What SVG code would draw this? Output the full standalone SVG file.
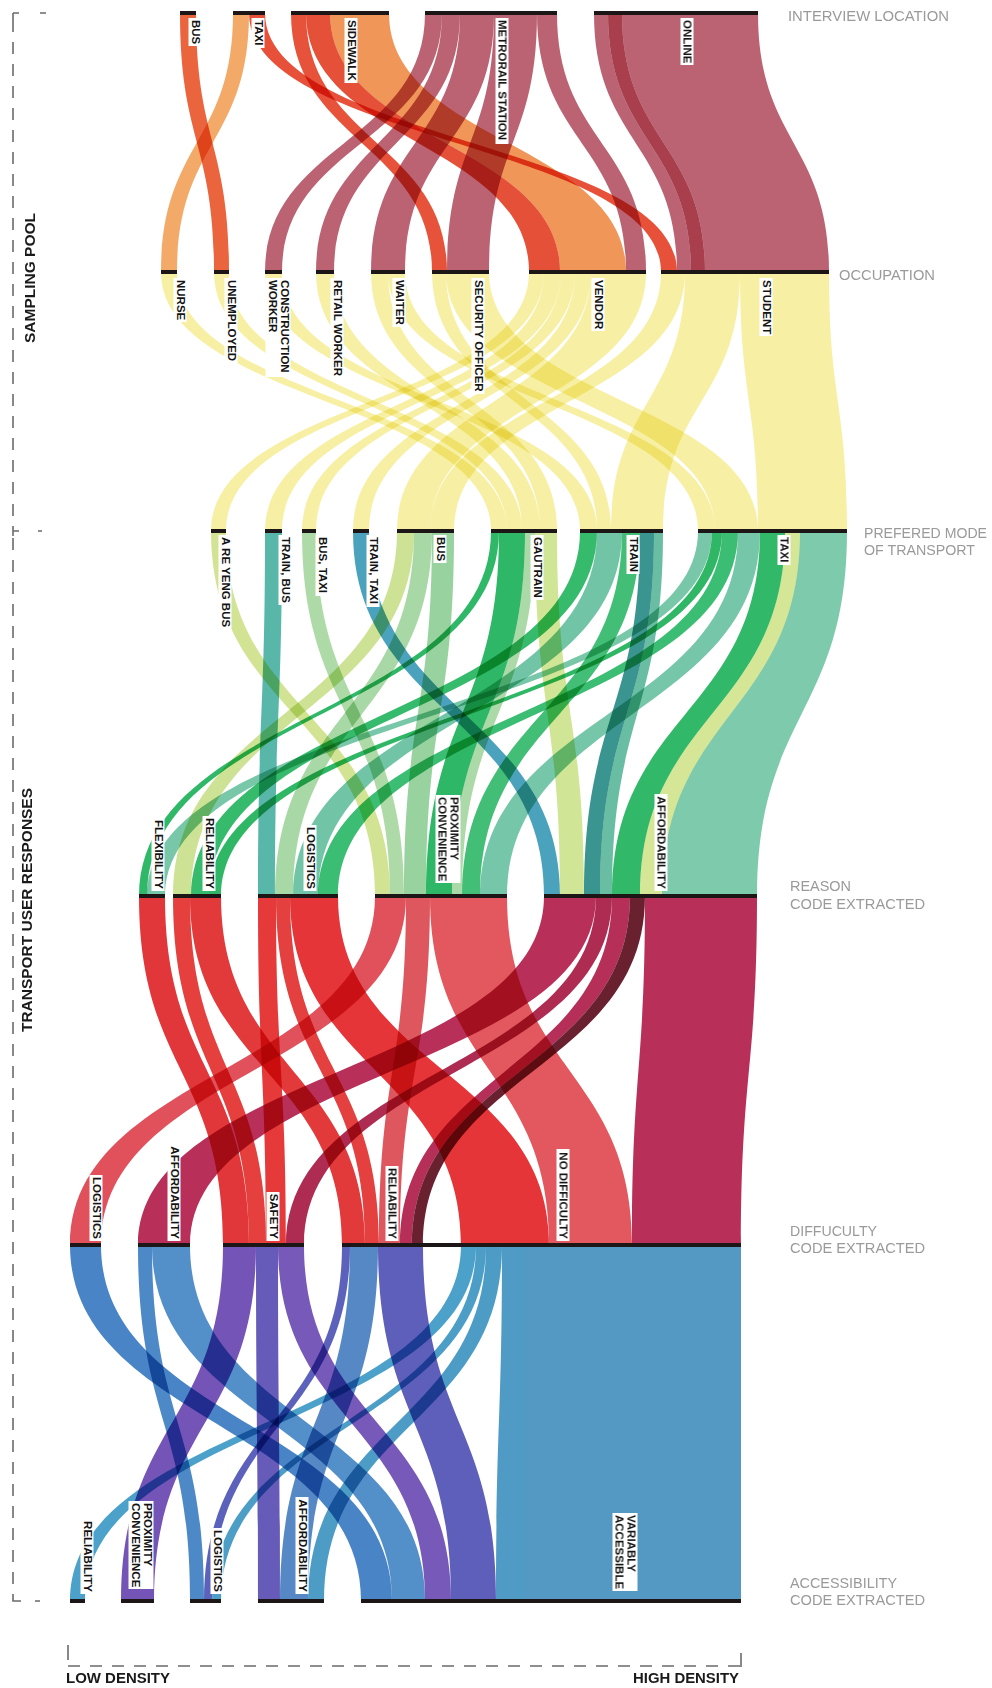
<svg xmlns="http://www.w3.org/2000/svg" width="992" height="1688" viewBox="0 0 992 1688">
<style>
.bar{fill:#1d1616}
.lb rect{fill:#fff}
.lb text{font-family:"Liberation Sans",Arial,sans-serif;font-weight:700;font-size:11.5px;fill:#141414}
.rb{mix-blend-mode:multiply;fill-opacity:.93}
.ry{mix-blend-mode:multiply;fill:#f1e35a;fill-opacity:.55}
.ttl{font-family:"Liberation Sans",Arial,sans-serif;font-size:14.5px;fill:#9a9a9a}
.ax{font-family:"Liberation Sans",Arial,sans-serif;font-weight:700;font-size:14px;fill:#1a1a1a}
.dash{stroke:#6b6b6b;stroke-width:1.6;fill:none;stroke-dasharray:12 10}
.tick{stroke:#6b6b6b;stroke-width:1.6;fill:none}
</style>
<rect width="992" height="1688" fill="#fff"/>

<g id="connectors">
<!-- interview location -> occupation -->
<g fill="#b65768">
<path class="rb" d="M425 13C425 142.5 265 142.5 265 272L282 272C282 142.5 442 142.5 442 13Z"/>
<path class="rb" d="M442 13C442 142.5 316 142.5 316 272L334 272C334 142.5 460 142.5 460 13Z"/>
<path class="rb" d="M460 13C460 142.5 371 142.5 371 272L405 272C405 142.5 494 142.5 494 13Z"/>
<path class="rb" d="M494 13C494 142.5 447 142.5 447 272L489 272C489 142.5 537 142.5 537 13Z"/>
<path class="rb" d="M537 13C537 142.5 626 142.5 626 272L646 272C646 142.5 557 142.5 557 13Z"/>
<path class="rb" d="M594 13C594 142.5 677 142.5 677 272L691 272C691 142.5 608 142.5 608 13Z"/>
<path class="rb" d="M622 13C622 142.5 705 142.5 705 272L829 272C829 142.5 758 142.5 758 13Z"/>
</g>
<path class="rb" fill="#a2303f" d="M608 13C608 142.5 691 142.5 691 272L705 272C705 142.5 622 142.5 622 13Z"/>
<path class="rb" fill="#ef8e4c" d="M330 13C330 142.5 560 142.5 560 272L626 272C626 142.5 389 142.5 389 13Z"/>
<path class="rb" fill="#f2a35c" d="M233 13C233 142.5 161 142.5 161 272L177 272C177 142.5 249 142.5 249 13Z"/>
<path class="rb" fill="#e8592e" d="M180 13C180 142.5 214 142.5 214 272L229 272C229 142.5 196 142.5 196 13Z"/>
<path class="rb" fill="#e6442a" d="M249 13C249 142.5 661 142.5 661 272L677 272C677 142.5 265 142.5 265 13Z"/>
<path class="rb" fill="#e4452b" d="M291 13C291 142.5 432 142.5 432 272L447 272C447 142.5 306 142.5 306 13Z"/>
<path class="rb" fill="#e34329" d="M306 13C306 142.5 529 142.5 529 272L560 272C560 142.5 330 142.5 330 13Z"/>

<!-- occupation -> preferred mode -->
<path class="ry" d="M161 272C161 401.5 491 401.5 491 531L507 531C507 401.5 177 401.5 177 272Z"/>
<path class="ry" d="M214 272C214 401.5 507 401.5 507 531L522 531C522 401.5 229 401.5 229 272Z"/>
<path class="ry" d="M265 272C265 401.5 580 401.5 580 531L597 531C597 401.5 282 401.5 282 272Z"/>
<path class="ry" d="M316 272C316 401.5 522 401.5 522 531L540 531C540 401.5 334 401.5 334 272Z"/>
<path class="ry" d="M371 272C371 401.5 540 401.5 540 531L557 531C557 401.5 388 401.5 388 272Z"/>
<path class="ry" d="M388 272C388 401.5 698 401.5 698 531L715 531C715 401.5 405 401.5 405 272Z"/>
<path class="ry" d="M432 272C432 401.5 597 401.5 597 531L611 531C611 401.5 446 401.5 446 272Z"/>
<path class="ry" d="M446 272C446 401.5 715 401.5 715 531L758 531C758 401.5 489 401.5 489 272Z"/>
<path class="ry" d="M529 272C529 401.5 211 401.5 211 531L226 531C226 401.5 544 401.5 544 272Z"/>
<path class="ry" d="M544 272C544 401.5 265 401.5 265 531L282 531C282 401.5 561 401.5 561 272Z"/>
<path class="ry" d="M561 272C561 401.5 302 401.5 302 531L316 531C316 401.5 575 401.5 575 272Z"/>
<path class="ry" d="M575 272C575 401.5 353 401.5 353 531L369 531C369 401.5 591 401.5 591 272Z"/>
<path class="ry" d="M591 272C591 401.5 397 401.5 397 531L430 531C430 401.5 646 401.5 646 272Z"/>
<path class="ry" d="M661 272C661 401.5 430 401.5 430 531L454 531C454 401.5 685 401.5 685 272Z"/>
<path class="ry" d="M685 272C685 401.5 611 401.5 611 531L663 531C663 401.5 740 401.5 740 272Z"/>
<path class="ry" d="M740 272C740 401.5 758 401.5 758 531L847 531C847 401.5 829 401.5 829 272Z"/>

<!-- preferred mode -> reason -->
<path class="rb" fill="#74c6a6" d="M800 531C800 713.5 662 713.5 662 896L757 896C757 713.5 847 713.5 847 531Z"/>
<path class="rb" fill="#6fc3a3" d="M698 531C698 713.5 147 713.5 147 896L165 896C165 713.5 712 713.5 712 531Z"/>
<path class="rb" fill="#4cb2a3" d="M265 531C265 713.5 258 713.5 258 896L275 896C275 713.5 282 713.5 282 531Z"/>
<path class="rb" fill="#66c19f" d="M597 531C597 713.5 293 713.5 293 896L318 896C318 713.5 622 713.5 622 531Z"/>
<path class="rb" fill="#6cc2a2" d="M738 531C738 713.5 480 713.5 480 896L507 896C507 713.5 760 713.5 760 531Z"/>
<path class="rb" fill="#5db89c" d="M654 531C654 713.5 600 713.5 600 896L612 896C612 713.5 663 713.5 663 531Z"/>
<path class="rb" fill="#c9e08c" d="M397 531C397 713.5 173 713.5 173 896L191 896C191 713.5 414 713.5 414 531Z"/>
<path class="rb" fill="#a2d5a0" d="M414 531C414 713.5 275 713.5 275 896L293 896C293 713.5 432 713.5 432 531Z"/>
<path class="rb" fill="#cfe28c" d="M211 531C211 713.5 375 713.5 375 896L390 896C390 713.5 226 713.5 226 531Z"/>
<path class="rb" fill="#a7d7a0" d="M302 531C302 713.5 390 713.5 390 896L404 896C404 713.5 316 713.5 316 531Z"/>
<path class="rb" fill="#8fcf98" d="M432 531C432 713.5 404 713.5 404 896L426 896C426 713.5 454 713.5 454 531Z"/>
<path class="rb" fill="#a5d6a0" d="M525 531C525 713.5 452 713.5 452 896L462 896C462 713.5 535 713.5 535 531Z"/>
<path class="rb" fill="#cde38e" d="M535 531C535 713.5 560 713.5 560 896L584 896C584 713.5 557 713.5 557 531Z"/>
<path class="rb" fill="#d2e58e" d="M785 531C785 713.5 640 713.5 640 896L662 896C662 713.5 800 713.5 800 531Z"/>
<path class="rb" fill="#1fb35b" d="M491 531C491 713.5 139 713.5 139 896L147 896C147 713.5 499 713.5 499 531Z"/>
<path class="rb" fill="#27b561" d="M580 531C580 713.5 191 713.5 191 896L209 896C209 713.5 597 713.5 597 531Z"/>
<path class="rb" fill="#1fb25a" d="M712 531C712 713.5 209 713.5 209 896L221 896C221 713.5 722 713.5 722 531Z"/>
<path class="rb" fill="#2cb868" d="M722 531C722 713.5 318 713.5 318 896L338 896C338 713.5 738 713.5 738 531Z"/>
<path class="rb" fill="#1db25a" d="M499 531C499 713.5 426 713.5 426 896L452 896C452 713.5 525 713.5 525 531Z"/>
<path class="rb" fill="#35b96d" d="M622 531C622 713.5 462 713.5 462 896L480 896C480 713.5 640 713.5 640 531Z"/>
<path class="rb" fill="#22b35e" d="M760 531C760 713.5 612 713.5 612 896L640 896C640 713.5 785 713.5 785 531Z"/>
<path class="rb" fill="#3c9bb7" d="M353 531C353 713.5 544 713.5 544 896L560 896C560 713.5 369 713.5 369 531Z"/>
<path class="rb" fill="#2b8d88" d="M640 531C640 713.5 584 713.5 584 896L600 896C600 713.5 654 713.5 654 531Z"/>

<!-- reason -> difficulty -->
<path class="rb" fill="#b31f4c" d="M645 896C645 1070.5 632 1070.5 632 1245L741 1245C741 1070.5 757 1070.5 757 896Z"/>
<path class="rb" fill="#e04b52" d="M430 896C430 1070.5 549 1070.5 549 1245L632 1245C632 1070.5 507 1070.5 507 896Z"/>
<path class="rb" fill="#e3262a" d="M290 896C290 1070.5 461 1070.5 461 1245L549 1245C549 1070.5 338 1070.5 338 896Z"/>
<path class="rb" fill="#e0282b" d="M139 896C139 1070.5 223 1070.5 223 1245L249 1245C249 1070.5 165 1070.5 165 896Z"/>
<path class="rb" fill="#e3302f" d="M173 896C173 1070.5 249 1070.5 249 1245L266 1245C266 1070.5 190 1070.5 190 896Z"/>
<path class="rb" fill="#e42b2b" d="M258 896C258 1070.5 266 1070.5 266 1245L286 1245C286 1070.5 276 1070.5 276 896Z"/>
<path class="rb" fill="#e02a2c" d="M190 896C190 1070.5 342 1070.5 342 1245L365 1245C365 1070.5 221 1070.5 221 896Z"/>
<path class="rb" fill="#e23131" d="M276 896C276 1070.5 365 1070.5 365 1245L379 1245C379 1070.5 290 1070.5 290 896Z"/>
<path class="rb" fill="#dd4a52" d="M406 896C406 1070.5 379 1070.5 379 1245L400 1245C400 1070.5 430 1070.5 430 896Z"/>
<path class="rb" fill="#de4450" d="M375 896C375 1070.5 70 1070.5 70 1245L101 1245C101 1070.5 406 1070.5 406 896Z"/>
<path class="rb" fill="#b31f4c" d="M544 896C544 1070.5 138 1070.5 138 1245L190 1245C190 1070.5 596 1070.5 596 896Z"/>
<path class="rb" fill="#a81c45" d="M596 896C596 1070.5 286 1070.5 286 1245L304 1245C304 1070.5 612 1070.5 612 896Z"/>
<path class="rb" fill="#b01f4b" d="M612 896C612 1070.5 400 1070.5 400 1245L412 1245C412 1070.5 630 1070.5 630 896Z"/>
<path class="rb" fill="#5e1020" d="M630 896C630 1070.5 412 1070.5 412 1245L423 1245C423 1070.5 645 1070.5 645 896Z"/>

<!-- difficulty -> accessibility -->
<path class="rb" fill="#4791be" d="M525 1245L741 1245L741 1601L525 1601Z"/>
<path class="rb" fill="#4392c2" d="M502 1245C502 1423 496 1423 496 1601L525 1601C525 1423 525 1423 525 1245Z"/>
<path class="rb" fill="#5253b6" d="M378 1245C378 1423 451 1423 451 1601L496 1601C496 1423 423 1423 423 1245Z"/>
<path class="rb" fill="#6d4cb4" d="M278 1245C278 1423 425 1423 425 1601L451 1601C451 1423 304 1423 304 1245Z"/>
<path class="rb" fill="#4687c4" d="M152 1245C152 1423 392 1423 392 1601L425 1601C425 1423 190 1423 190 1245Z"/>
<path class="rb" fill="#3b7cc2" d="M70 1245C70 1423 361 1423 361 1601L392 1601C392 1423 101 1423 101 1245Z"/>
<path class="rb" fill="#6a47b1" d="M223 1245C223 1423 121 1423 121 1601L154 1601C154 1423 256 1423 256 1245Z"/>
<path class="rb" fill="#3f80c3" d="M138 1245C138 1423 190 1423 190 1601L204 1601C204 1423 152 1423 152 1245Z"/>
<path class="rb" fill="#5056b6" d="M342 1245C342 1423 204 1423 204 1601L212 1601C212 1423 350 1423 350 1245Z"/>
<path class="rb" fill="#5a4fb4" d="M256 1245C256 1423 258 1423 258 1601L280 1601C280 1423 278 1423 278 1245Z"/>
<path class="rb" fill="#4a7fc2" d="M350 1245C350 1423 280 1423 280 1601L308 1601C308 1423 378 1423 378 1245Z"/>
<path class="rb" fill="#3e9ac6" d="M461 1245C461 1423 70 1423 70 1601L85 1601C85 1423 476 1423 476 1245Z"/>
<path class="rb" fill="#3f97c3" d="M476 1245C476 1423 212 1423 212 1601L221 1601C221 1423 486 1423 486 1245Z"/>
<path class="rb" fill="#3f95c2" d="M486 1245C486 1423 308 1423 308 1601L324 1601C324 1423 502 1423 502 1245Z"/>
</g>

<!-- Interview location nodes -->
<g id="n-il-bus"><rect class="bar" x="180" y="11" width="16" height="4"/><g class="lb" transform="translate(191.5,20) rotate(90)"><rect x="-2" y="-10" width="28" height="13"/><text>BUS</text></g></g>
<g id="n-il-taxi"><rect class="bar" x="233" y="11" width="32" height="4"/><g class="lb" transform="translate(254.5,20) rotate(90)"><rect x="-2" y="-10" width="30" height="13"/><text>TAXI</text></g></g>
<g id="n-il-sidewalk"><rect class="bar" x="291" y="11" width="98" height="4"/><g class="lb" transform="translate(347.5,20) rotate(90)"><rect x="-2" y="-10" width="65" height="13"/><text>SIDEWALK</text></g></g>
<g id="n-il-metrorail"><rect class="bar" x="425" y="11" width="132" height="4"/><g class="lb" transform="translate(498.5,20) rotate(90)"><rect x="-2" y="-10" width="126" height="13"/><text>METRORAIL STATION</text></g></g>
<g id="n-il-online"><rect class="bar" x="594" y="11" width="164" height="4"/><g class="lb" transform="translate(683.5,20) rotate(90)"><rect x="-2" y="-10" width="47" height="13"/><text>ONLINE</text></g></g>

<!-- Occupation nodes -->
<g id="n-oc-nurse"><rect class="bar" x="161" y="270" width="16" height="4"/><g class="lb" transform="translate(176.5,280) rotate(90)"><rect x="-2" y="-10" width="44" height="13"/><text>NURSE</text></g></g>
<g id="n-oc-unemployed"><rect class="bar" x="214" y="270" width="15" height="4"/><g class="lb" transform="translate(227.5,280) rotate(90)"><rect x="-2" y="-10" width="85" height="13"/><text>UNEMPLOYED</text></g></g>
<g id="n-oc-construction"><rect class="bar" x="265" y="270" width="17" height="4"/><g class="lb" transform="translate(280.5,280) rotate(90)"><rect x="-2" y="-10" width="99" height="25"/><text>CONSTRUCTION</text><text y="12">WORKER</text></g></g>
<g id="n-oc-retail"><rect class="bar" x="316" y="270" width="18" height="4"/><g class="lb" transform="translate(333.5,280) rotate(90)"><rect x="-2" y="-10" width="101" height="13"/><text>RETAIL WORKER</text></g></g>
<g id="n-oc-waiter"><rect class="bar" x="371" y="270" width="34" height="4"/><g class="lb" transform="translate(395.5,280) rotate(90)"><rect x="-2" y="-10" width="49" height="13"/><text>WAITER</text></g></g>
<g id="n-oc-security"><rect class="bar" x="432" y="270" width="57" height="4"/><g class="lb" transform="translate(474.5,280) rotate(90)"><rect x="-2" y="-10" width="116" height="13"/><text>SECURITY OFFICER</text></g></g>
<g id="n-oc-vendor"><rect class="bar" x="529" y="270" width="117" height="4"/><g class="lb" transform="translate(594.5,280) rotate(90)"><rect x="-2" y="-10" width="53" height="13"/><text>VENDOR</text></g></g>
<g id="n-oc-student"><rect class="bar" x="661" y="270" width="168" height="4"/><g class="lb" transform="translate(762.5,280) rotate(90)"><rect x="-2" y="-10" width="58" height="13"/><text>STUDENT</text></g></g>

<!-- Preferred mode nodes -->
<g id="n-pm-areyeng"><rect class="bar" x="211" y="529" width="15" height="4"/><g class="lb" transform="translate(221.5,537) rotate(90)"><rect x="-2" y="-10" width="95" height="13"/><text>A RE YENG BUS</text></g></g>
<g id="n-pm-trainbus"><rect class="bar" x="265" y="529" width="17" height="4"/><g class="lb" transform="translate(281.5,537) rotate(90)"><rect x="-2" y="-10" width="70" height="13"/><text>TRAIN, BUS</text></g></g>
<g id="n-pm-bustaxi"><rect class="bar" x="302" y="529" width="14" height="4"/><g class="lb" transform="translate(318.5,537) rotate(90)"><rect x="-2" y="-10" width="61" height="13"/><text>BUS, TAXI</text></g></g>
<g id="n-pm-traintaxi"><rect class="bar" x="353" y="529" width="16" height="4"/><g class="lb" transform="translate(369.5,537) rotate(90)"><rect x="-2" y="-10" width="72" height="13"/><text>TRAIN, TAXI</text></g></g>
<g id="n-pm-bus"><rect class="bar" x="397" y="529" width="57" height="4"/><g class="lb" transform="translate(436.5,537) rotate(90)"><rect x="-2" y="-10" width="28" height="13"/><text>BUS</text></g></g>
<g id="n-pm-gautrain"><rect class="bar" x="491" y="529" width="66" height="4"/><g class="lb" transform="translate(533.5,537) rotate(90)"><rect x="-2" y="-10" width="65" height="13"/><text>GAUTRAIN</text></g></g>
<g id="n-pm-train"><rect class="bar" x="580" y="529" width="83" height="4"/><g class="lb" transform="translate(629.5,537) rotate(90)"><rect x="-2" y="-10" width="39" height="13"/><text>TRAIN</text></g></g>
<g id="n-pm-taxi"><rect class="bar" x="698" y="529" width="149" height="4"/><g class="lb" transform="translate(780.5,537) rotate(90)"><rect x="-2" y="-10" width="30" height="13"/><text>TAXI</text></g></g>

<!-- Reason nodes -->
<g id="n-rs-flexibility"><rect class="bar" x="139" y="894" width="26" height="4"/><g class="lb" transform="translate(154.5,889) rotate(90)"><rect x="-71" y="-10" width="73" height="13"/><text text-anchor="end">FLEXIBILITY</text></g></g>
<g id="n-rs-reliability"><rect class="bar" x="173" y="894" width="48" height="4"/><g class="lb" transform="translate(205.5,889) rotate(90)"><rect x="-73" y="-10" width="75" height="13"/><text text-anchor="end">RELIABILITY</text></g></g>
<g id="n-rs-logistics"><rect class="bar" x="258" y="894" width="80" height="4"/><g class="lb" transform="translate(306.5,889) rotate(90)"><rect x="-64" y="-10" width="66" height="13"/><text text-anchor="end">LOGISTICS</text></g></g>
<g id="n-rs-proximity"><rect class="bar" x="375" y="894" width="132" height="4"/><g class="lb" transform="translate(450.5,797) rotate(90)"><rect x="-2" y="-10" width="88" height="25"/><text>PROXIMITY</text><text y="12">CONVENIENCE</text></g></g>
<g id="n-rs-affordability"><rect class="bar" x="544" y="894" width="213" height="4"/><g class="lb" transform="translate(657.5,889) rotate(90)"><rect x="-95" y="-10" width="97" height="13"/><text text-anchor="end">AFFORDABILITY</text></g></g>

<!-- Difficulty nodes -->
<g id="n-df-logistics"><rect class="bar" x="70" y="1243" width="31" height="4"/><g class="lb" transform="translate(92.5,1239) rotate(90)"><rect x="-64" y="-10" width="66" height="13"/><text text-anchor="end">LOGISTICS</text></g></g>
<g id="n-df-affordability"><rect class="bar" x="138" y="1243" width="52" height="4"/><g class="lb" transform="translate(170.5,1239) rotate(90)"><rect x="-95" y="-10" width="97" height="13"/><text text-anchor="end">AFFORDABILITY</text></g></g>
<g id="n-df-safety"><rect class="bar" x="223" y="1243" width="81" height="4"/><g class="lb" transform="translate(269.5,1239) rotate(90)"><rect x="-47" y="-10" width="49" height="13"/><text text-anchor="end">SAFETY</text></g></g>
<g id="n-df-reliability"><rect class="bar" x="342" y="1243" width="119" height="4"/><g class="lb" transform="translate(388.5,1239) rotate(90)"><rect x="-73" y="-10" width="75" height="13"/><text text-anchor="end">RELIABILITY</text></g></g>
<g id="n-df-nodifficulty"><rect class="bar" x="461" y="1243" width="280" height="4"/><g class="lb" transform="translate(559.5,1239) rotate(90)"><rect x="-90" y="-10" width="92" height="13"/><text text-anchor="end">NO DIFFICULTY</text></g></g>

<!-- Accessibility nodes -->
<g id="n-ac-reliability"><rect class="bar" x="70" y="1599" width="15" height="4"/><g class="lb" transform="translate(83.5,1592) rotate(90)"><rect x="-73" y="-10" width="75" height="13"/><text text-anchor="end">RELIABILITY</text></g></g>
<g id="n-ac-proximity"><rect class="bar" x="121" y="1599" width="33" height="4"/><g class="lb" transform="translate(143.5,1503) rotate(90)"><rect x="-2" y="-10" width="88" height="25"/><text>PROXIMITY</text><text y="12">CONVENIENCE</text></g></g>
<g id="n-ac-logistics"><rect class="bar" x="190" y="1599" width="31" height="4"/><g class="lb" transform="translate(213.5,1592) rotate(90)"><rect x="-64" y="-10" width="66" height="13"/><text text-anchor="end">LOGISTICS</text></g></g>
<g id="n-ac-affordability"><rect class="bar" x="258" y="1599" width="66" height="4"/><g class="lb" transform="translate(298.5,1592) rotate(90)"><rect x="-95" y="-10" width="97" height="13"/><text text-anchor="end">AFFORDABILITY</text></g></g>
<g id="n-ac-variably"><rect class="bar" x="361" y="1599" width="380" height="4"/><g class="lb" transform="translate(627.5,1515) rotate(90)"><rect x="-2" y="-10" width="78" height="25"/><text>VARIABLY</text><text y="12">ACCESSIBLE</text></g></g>

<!-- Layer titles -->
<g id="titles">
<text class="ttl" x="788" y="21" textLength="161" lengthAdjust="spacingAndGlyphs">INTERVIEW LOCATION</text>
<text class="ttl" x="839" y="280" textLength="96" lengthAdjust="spacingAndGlyphs">OCCUPATION</text>
<text class="ttl" x="864" y="538" textLength="123" lengthAdjust="spacingAndGlyphs">PREFERED MODE</text>
<text class="ttl" x="864" y="555" textLength="111" lengthAdjust="spacingAndGlyphs">OF TRANSPORT</text>
<text class="ttl" x="790" y="891" textLength="61" lengthAdjust="spacingAndGlyphs">REASON</text>
<text class="ttl" x="790" y="909" textLength="135" lengthAdjust="spacingAndGlyphs">CODE EXTRACTED</text>
<text class="ttl" x="790" y="1236" textLength="87" lengthAdjust="spacingAndGlyphs">DIFFUCULTY</text>
<text class="ttl" x="790" y="1253" textLength="135" lengthAdjust="spacingAndGlyphs">CODE EXTRACTED</text>
<text class="ttl" x="790" y="1588" textLength="107" lengthAdjust="spacingAndGlyphs">ACCESSIBILITY</text>
<text class="ttl" x="790" y="1605" textLength="135" lengthAdjust="spacingAndGlyphs">CODE EXTRACTED</text>
</g>

<!-- Left bracket -->
<g id="left-axis">
<path class="dash" d="M13 20V526"/>
<path class="dash" d="M13 538V1596"/>
<path class="tick" d="M13 13H19M13 13V20M40 13H46"/>
<path class="tick" d="M13 526V536M13 531H19M38 531H42"/>
<path class="tick" d="M13 1596V1601H21M35 1601H40"/>
<text class="ax" transform="translate(35,278) rotate(-90)" text-anchor="middle" textLength="130" lengthAdjust="spacingAndGlyphs">SAMPLING POOL</text>
<text class="ax" transform="translate(32,910) rotate(-90)" text-anchor="middle" textLength="244" lengthAdjust="spacingAndGlyphs">TRANSPORT USER RESPONSES</text>
</g>

<!-- Density axis -->
<g id="density-axis">
<path class="tick" d="M68 1645V1660M741 1653V1667"/>
<path class="dash" d="M68 1666H741" stroke-dasharray="14 10"/>
<text class="ax" x="66" y="1683" textLength="104" lengthAdjust="spacingAndGlyphs">LOW DENSITY</text>
<text class="ax" x="739" y="1683" text-anchor="end" textLength="106" lengthAdjust="spacingAndGlyphs">HIGH DENSITY</text>
</g>
</svg>
